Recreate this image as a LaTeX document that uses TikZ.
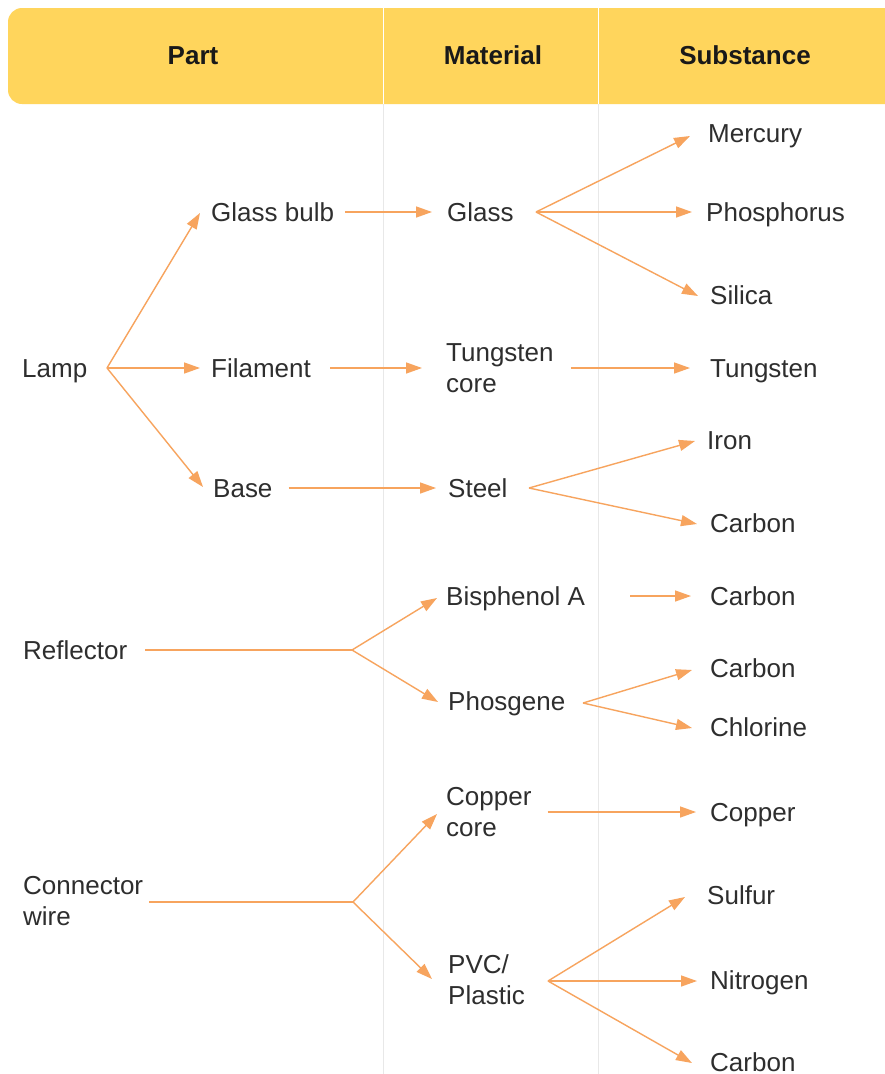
\documentclass[tikz,border=0pt]{standalone}
\usepackage{fontspec}
\setmainfont{Liberation Sans}
\usetikzlibrary{arrows.meta}
\definecolor{headfill}{HTML}{FFD55C}
\definecolor{flow}{HTML}{F7A45E}
\definecolor{ink}{HTML}{2E2E2E}
\definecolor{rule}{HTML}{E8E8E8}
\begin{document}
\begin{tikzpicture}[x=1pt,y=-1pt,
  lbl/.style={anchor=west,inner sep=0pt,text=ink,
    font=\fontsize{26}{31}\selectfont,text height=18.6pt,text depth=0pt},
  lbltwo/.style={lbl,align=left,text height=49.6pt,text depth=0pt},
  head/.style={inner sep=0pt,text=black!90,text height=18.6pt,text depth=0pt,
    font=\fontsize{26}{31}\selectfont\bfseries},
  flowline/.style={draw=flow,line width=1.4pt},
  arr/.style={flowline,-{Triangle[length=16pt,width=11pt]}}]
\useasboundingbox (0,0) rectangle (885,1074);
\fill[white] (0,0) rectangle (885,1074);

% header band and column rules
\begin{scope}
\clip (0,0) rectangle (885,1074);
\fill[headfill,rounded corners=14pt] (8,8) rectangle (920,104);
\end{scope}
\draw[rule,line width=1pt] (383,104) -- (383,1074);
\draw[rule,line width=1pt] (598,104) -- (598,1074);
\draw[white,line width=1pt] (383,8) -- (383,104);
\draw[white,line width=1pt] (598,8) -- (598,104);
\node[head] (hpart) at (193,55) {Part};
\node[head] (hmat) at (493,55) {Material};
\node[head] (hsub) at (745,55) {Substance};

% parts
\node[lbl] (lamp) at (22,368) {Lamp};
\node[lbl] (refl) at (23,650) {Reflector};
\node[lbltwo] (wire) at (23,901) {Connector\\wire};

% components of the lamp
\node[lbl] (bulb) at (211,212) {Glass bulb};
\node[lbl] (fil) at (211,368) {Filament};
\node[lbl] (base) at (213,488) {Base};

% materials
\node[lbl] (glass) at (447,212) {Glass};
\node[lbltwo] (tcore) at (446,368) {Tungsten\\core};
\node[lbl] (steel) at (448,488) {Steel};
\node[lbl] (bpa) at (446,596) {Bisphenol A};
\node[lbl] (phos) at (448,701) {Phosgene};
\node[lbltwo] (ccore) at (446,812) {Copper\\core};
\node[lbltwo] (pvc) at (448,980) {PVC/\\Plastic};

% substances
\node[lbl] (merc) at (708,133) {Mercury};
\node[lbl] (phor) at (706,212) {Phosphorus};
\node[lbl] (sil) at (710,295) {Silica};
\node[lbl] (tung) at (710,368) {Tungsten};
\node[lbl] (iron) at (707,440) {Iron};
\node[lbl] (carbA) at (710,523) {Carbon};
\node[lbl] (carbB) at (710,596) {Carbon};
\node[lbl] (carbC) at (710,668) {Carbon};
\node[lbl] (chlor) at (710,727) {Chlorine};
\node[lbl] (copp) at (710,812) {Copper};
\node[lbl] (sulf) at (707,895) {Sulfur};
\node[lbl] (nitr) at (710,980) {Nitrogen};
\node[lbl] (carbD) at (710,1062) {Carbon};

% branching points
\coordinate (lampfork) at (107,368);
\coordinate (glassfork) at (536,212);
\coordinate (steelfork) at (529,488);
\coordinate (reflfork) at (352,650);
\coordinate (phosfork) at (583,703);
\coordinate (wirefork) at (353,902);
\coordinate (pvcfork) at (548,981);

% lamp
\draw[arr] (lampfork) -- ([xshift=-11pt,yshift=-1pt]bulb.west);
\draw[arr] (lampfork) -- ([xshift=-11pt]fil.west);
\draw[arr] (lampfork) -- ([xshift=-10pt,yshift=1pt]base.west);
\draw[arr] ([xshift=11pt]bulb.east) -- ([xshift=-15pt]glass.west);
\draw[arr] ([xshift=19pt]fil.east) -- ([xshift=-24pt]tcore.west);
\draw[arr] ([xshift=16pt]base.east) -- ([xshift=-12pt]steel.west);
\draw[arr] (glassfork) -- ([xshift=-18pt,yshift=-3pt]merc.west);
\draw[arr] (glassfork) -- ([xshift=-14pt]phor.west);
\draw[arr] (glassfork) -- ([xshift=-12pt,yshift=-1pt]sil.west);
\draw[arr] ([xshift=17pt]tcore.east) -- ([xshift=-20pt]tung.west);
\draw[arr] (steelfork) -- ([xshift=-12pt,yshift=-1pt]iron.west);
\draw[arr] (steelfork) -- ([xshift=-13pt,yshift=-1pt]carbA.west);

% reflector
\draw[flowline] ([xshift=18pt]refl.east) -- (reflfork);
\draw[arr] (reflfork) -- ([xshift=-9pt,yshift=-2pt]bpa.west);
\draw[arr] (reflfork) -- ([xshift=-10pt,yshift=-1pt]phos.west);
\draw[arr] ([xshift=45pt]bpa.east) -- ([xshift=-19pt]carbB.west);
\draw[arr] (phosfork) -- ([xshift=-18pt,yshift=-2pt]carbC.west);
\draw[arr] (phosfork) -- ([xshift=-18pt,yshift=-1pt]chlor.west);

% connector wire
\draw[flowline] ([xshift=6pt,yshift=-1pt]wire.east) -- (wirefork);
\draw[arr] (wirefork) -- ([xshift=-9pt,yshift=-2pt]ccore.west);
\draw[arr] (wirefork) -- ([xshift=-16pt,yshift=1pt]pvc.west);
\draw[arr] ([xshift=16pt]ccore.east) -- ([xshift=-14pt]copp.west);
\draw[arr] (pvcfork) -- ([xshift=-22pt,yshift=-2pt]sulf.west);
\draw[arr] (pvcfork) -- ([xshift=-13pt,yshift=-1pt]nitr.west);
\draw[arr] (pvcfork) -- ([xshift=-18pt,yshift=-1pt]carbD.west);
\end{tikzpicture}
\end{document}
